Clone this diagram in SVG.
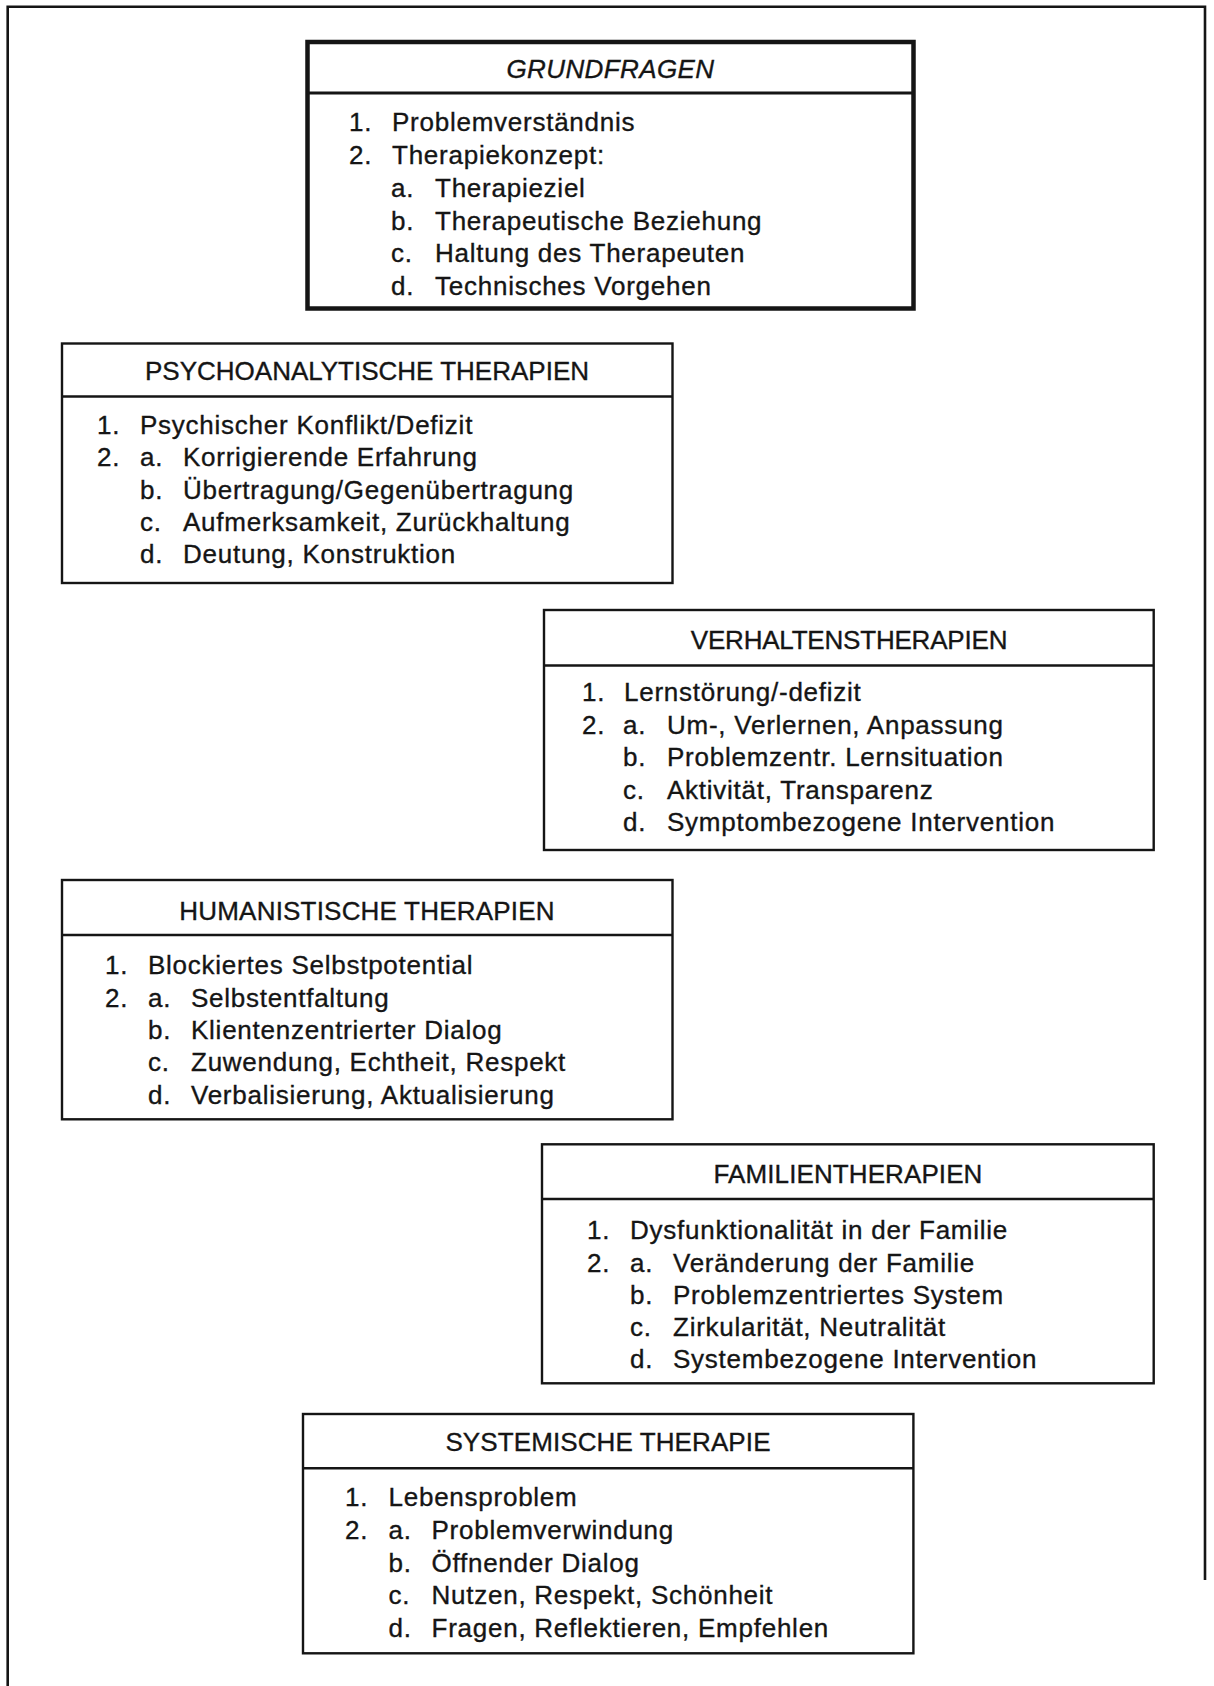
<svg xmlns="http://www.w3.org/2000/svg" width="1214" height="1686" viewBox="0 0 1214 1686">
<style>
  .box { fill: #fff; stroke: #151515; stroke-width: 2.4; }
  .div { stroke: #151515; stroke-width: 2.4; }
  .t { font-family: "Liberation Sans", Arial, sans-serif; font-size: 26px; fill: #151515; stroke: #151515; stroke-width: 0.35; }
  .h { text-anchor: middle; letter-spacing: 0px; }
  .b { letter-spacing: 0.75px; }
</style>
<rect x="0" y="0" width="1214" height="1686" fill="#fff"/>
<path d="M7.7 1686 V6.7 H1205 V1580" fill="none" stroke="#151515" stroke-width="2.6"/>
<g id="connectors"/>

<g id="grundfragen">
  <rect class="box" x="307.5" y="42" width="606" height="266.5" style="stroke-width:4.5"/>
  <line class="div" x1="307.5" y1="93" x2="913.5" y2="93" style="stroke-width:3"/>
  <text class="t h" x="610.5" y="78" font-style="italic" style="letter-spacing:0.4px">GRUNDFRAGEN</text>
  <g class="t b">
    <text x="349" y="131">1.</text><text x="392" y="131">Problemverständnis</text>
    <text x="349" y="164">2.</text><text x="392" y="164">Therapiekonzept:</text>
    <text x="391" y="197">a.</text><text x="435" y="197">Therapieziel</text>
    <text x="391" y="229.5">b.</text><text x="435" y="229.5">Therapeutische Beziehung</text>
    <text x="391" y="262">c.</text><text x="435" y="262">Haltung des Therapeuten</text>
    <text x="391" y="295">d.</text><text x="435" y="295">Technisches Vorgehen</text>
  </g>
</g>

<g id="psychoanalytische">
  <rect class="box" x="62" y="343.5" width="610.5" height="239.5"/>
  <line class="div" x1="62" y1="396.5" x2="672.5" y2="396.5"/>
  <text class="t h" x="367" y="380">PSYCHOANALYTISCHE THERAPIEN</text>
  <g class="t b">
    <text x="97" y="434">1.</text><text x="140" y="434">Psychischer Konflikt/Defizit</text>
    <text x="97" y="466.3">2.</text><text x="140" y="466.3">a.</text><text x="183" y="466.3">Korrigierende Erfahrung</text>
    <text x="140" y="498.6">b.</text><text x="183" y="498.6">Übertragung/Gegenübertragung</text>
    <text x="140" y="531">c.</text><text x="183" y="531">Aufmerksamkeit, Zurückhaltung</text>
    <text x="140" y="563.3">d.</text><text x="183" y="563.3">Deutung, Konstruktion</text>
  </g>
</g>

<g id="verhaltenstherapien">
  <rect class="box" x="544" y="610" width="609.7" height="240"/>
  <line class="div" x1="544" y1="665.5" x2="1153.7" y2="665.5"/>
  <text class="t h" x="849" y="649" style="letter-spacing:-0.2px">VERHALTENSTHERAPIEN</text>
  <g class="t b">
    <text x="582" y="701">1.</text><text x="624" y="701">Lernstörung/-defizit</text>
    <text x="582" y="733.5">2.</text><text x="623" y="733.5">a.</text><text x="667" y="733.5">Um-, Verlernen, Anpassung</text>
    <text x="623" y="766">b.</text><text x="667" y="766">Problemzentr. Lernsituation</text>
    <text x="623" y="798.5">c.</text><text x="667" y="798.5">Aktivität, Transparenz</text>
    <text x="623" y="831">d.</text><text x="667" y="831">Symptombezogene Intervention</text>
  </g>
</g>

<g id="humanistische">
  <rect class="box" x="62" y="880" width="610.5" height="239.3"/>
  <line class="div" x1="62" y1="935" x2="672.5" y2="935"/>
  <text class="t h" x="367" y="920" style="letter-spacing:0.2px">HUMANISTISCHE THERAPIEN</text>
  <g class="t b">
    <text x="105" y="974">1.</text><text x="148" y="974">Blockiertes Selbstpotential</text>
    <text x="105" y="1006.5">2.</text><text x="148" y="1006.5">a.</text><text x="191" y="1006.5">Selbstentfaltung</text>
    <text x="148" y="1039">b.</text><text x="191" y="1039">Klientenzentrierter Dialog</text>
    <text x="148" y="1071.3">c.</text><text x="191" y="1071.3">Zuwendung, Echtheit, Respekt</text>
    <text x="148" y="1103.5">d.</text><text x="191" y="1103.5">Verbalisierung, Aktualisierung</text>
  </g>
</g>

<g id="familientherapien">
  <rect class="box" x="542" y="1144.3" width="611.7" height="239"/>
  <line class="div" x1="542" y1="1199" x2="1153.7" y2="1199"/>
  <text class="t h" x="848" y="1183.3" style="letter-spacing:0.1px">FAMILIENTHERAPIEN</text>
  <g class="t b">
    <text x="587" y="1239">1.</text><text x="630" y="1239">Dysfunktionalität in der Familie</text>
    <text x="587" y="1271.5">2.</text><text x="630" y="1271.5">a.</text><text x="673" y="1271.5">Veränderung der Familie</text>
    <text x="630" y="1303.8">b.</text><text x="673" y="1303.8">Problemzentriertes System</text>
    <text x="630" y="1336">c.</text><text x="673" y="1336">Zirkularität, Neutralität</text>
    <text x="630" y="1368">d.</text><text x="673" y="1368">Systembezogene Intervention</text>
  </g>
</g>

<g id="systemische">
  <rect class="box" x="303" y="1414" width="610.4" height="239.3"/>
  <line class="div" x1="303" y1="1468.3" x2="913.4" y2="1468.3"/>
  <text class="t h" x="608" y="1450.7" style="letter-spacing:0.1px">SYSTEMISCHE THERAPIE</text>
  <g class="t b">
    <text x="345" y="1506">1.</text><text x="388.5" y="1506">Lebensproblem</text>
    <text x="345" y="1538.5">2.</text><text x="388.5" y="1538.5">a.</text><text x="431.5" y="1538.5">Problemverwindung</text>
    <text x="388.5" y="1571.5">b.</text><text x="431.5" y="1571.5">Öffnender Dialog</text>
    <text x="388.5" y="1604">c.</text><text x="431.5" y="1604">Nutzen, Respekt, Schönheit</text>
    <text x="388.5" y="1636.5">d.</text><text x="431.5" y="1636.5">Fragen, Reflektieren, Empfehlen</text>
  </g>
</g>
</svg>
